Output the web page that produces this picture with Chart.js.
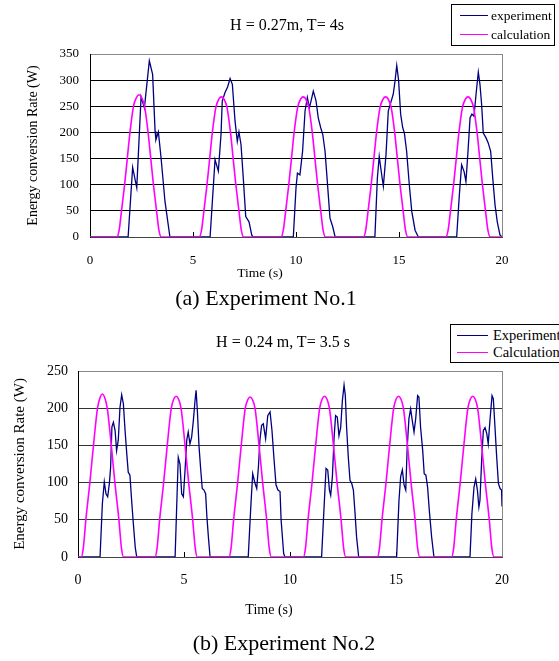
<!DOCTYPE html>
<html>
<head>
<meta charset="utf-8">
<title>Energy conversion rate</title>
<script src="https://cdn.jsdelivr.net/npm/chart.js@4.4.1/dist/chart.umd.min.js"></script>
<style>
  html, body { margin: 0; padding: 0; background: #fff; }
  body { position: relative; width: 559px; height: 661px; overflow: hidden; font-family: "Liberation Serif", "Times New Roman", serif; color: #000; }
  canvas { position: absolute; left: 0; }
  #c1 { top: 0; }
  #c2 { top: 300px; }
  .txt { position: absolute; transform: translate(-50%, -50%); white-space: nowrap; line-height: 1; }
  .legend { position: absolute; border: 1px solid #000; background: #fff; }
  .legend i { position: absolute; height: 0; border-top: 1px solid; }
  .legend span { position: absolute; transform: translateY(-50%); white-space: nowrap; line-height: 1; }
</style>
</head>
<body>
<canvas id="c1" width="559" height="290"></canvas>
<canvas id="c2" width="559" height="330"></canvas>

<div class="txt" style="left:287px; top:25px; font-size:16px;">H = 0.27m, T= 4s</div>
<div class="legend" style="left:451px; top:4px; width:102px; height:40px; font-size:13.5px;">
  <i style="left:8px; top:10px; width:28px; border-color:#000080;"></i><span style="left:39px; top:10.5px;">experiment</span>
  <i style="left:8px; top:29px; width:28px; border-color:#ff00ff;"></i><span style="left:39px; top:29.5px;">calculation</span>
</div>
<div class="txt" style="left:260px; top:273px; font-size:13.5px;">Time (s)</div>
<div class="txt" style="left:266px; top:298px; font-size:22px;">(a) Experiment No.1</div>

<div class="txt" style="left:283px; top:342px; font-size:16px;">H = 0.24 m, T= 3.5 s</div>
<div class="legend" style="left:450px; top:324px; width:130px; height:37px; font-size:14.5px;">
  <i style="left:6px; top:9.5px; width:31px; border-color:#000080;"></i><span style="left:42px; top:10px;">Experiment</span>
  <i style="left:6px; top:26.5px; width:31px; border-color:#ff00ff;"></i><span style="left:42px; top:27px;">Calculation</span>
</div>
<div class="txt" style="left:269px; top:610px; font-size:14px;">Time (s)</div>
<div class="txt" style="left:284px; top:643px; font-size:22px;">(b) Experiment No.2</div>

<script>
// (a) Experiment No.1  H = 0.27 m, T = 4 s
const expTime1 = [
  0, 1.85, 2.07, 2.27, 2.48, 2.64, 2.88, 3.04, 3.16, 3.20, 3.32, 3.45, 3.64, 3.88,
  5.83, 6.07, 6.23, 6.36, 6.42, 6.55, 6.68, 6.80, 6.91, 7.04, 7.15, 7.23, 7.33, 7.44, 7.56, 7.72, 7.85, 7.92,
  9.87, 10.00, 10.07, 10.19, 10.32, 10.44, 10.55, 10.65, 10.76, 10.84, 10.97, 11.08, 11.20, 11.30, 11.41, 11.52, 11.65, 11.78, 11.90,
  13.83, 13.95, 14.04, 14.16, 14.24, 14.37, 14.48, 14.60, 14.72, 14.81, 14.89, 14.98, 15.08, 15.18, 15.26, 15.37, 15.50, 15.62, 15.78, 15.94,
  17.80, 17.93, 18.04, 18.16, 18.25, 18.35, 18.45, 18.54, 18.64, 18.74, 18.85, 18.93, 19.01, 19.09, 19.22, 19.33, 19.45, 19.55, 19.66, 19.77, 19.90, 20
];
const expPower1 = [
  0, 0, 133, 94, 268, 247, 337, 311, 202, 186, 201, 151, 68, 0,
  0, 148, 126, 196, 260, 276, 287, 303, 292, 222, 183, 201, 177, 113, 39, 29, 4, 0,
  0, 94, 122, 119, 164, 241, 267, 247, 265, 279, 261, 228, 209, 196, 164, 106, 36, 20, 0,
  0, 113, 154, 119, 97, 158, 241, 257, 273, 299, 328, 300, 235, 209, 199, 164, 100, 49, 13, 0,
  0, 81, 138, 125, 106, 164, 228, 235, 231, 273, 315, 292, 254, 199, 190, 180, 164, 113, 62, 29, 4, 0
];
const calcTime1 = [
  0,
  1.30, 1.41, 1.53, 1.68, 1.81, 1.94, 2.11, 2.26, 2.38, 2.50, 2.65, 2.82, 2.95, 3.08, 3.23, 3.35, 3.46,
  5.30, 5.41, 5.53, 5.68, 5.81, 5.94, 6.11, 6.26, 6.38, 6.50, 6.65, 6.82, 6.95, 7.08, 7.23, 7.35, 7.46,
  9.27, 9.38, 9.50, 9.65, 9.78, 9.91, 10.08, 10.23, 10.35, 10.47, 10.62, 10.79, 10.92, 11.05, 11.20, 11.32, 11.43,
  13.27, 13.38, 13.50, 13.65, 13.78, 13.91, 14.08, 14.23, 14.35, 14.47, 14.62, 14.79, 14.92, 15.05, 15.20, 15.32, 15.43,
  17.27, 17.38, 17.50, 17.65, 17.78, 17.91, 18.08, 18.23, 18.35, 18.47, 18.62, 18.79, 18.92, 19.05, 19.20, 19.32, 19.43,
  20
];
const calcPower1 = [
  0,
  0, 12, 50, 100, 150, 200, 250, 267, 272, 267, 250, 200, 150, 100, 50, 12, 0,
  0, 12, 50, 100, 150, 200, 248, 264, 268, 264, 248, 200, 150, 100, 50, 12, 0,
  0, 12, 50, 100, 150, 200, 248, 264, 268, 264, 248, 200, 150, 100, 50, 12, 0,
  0, 12, 50, 100, 150, 200, 248, 264, 268, 264, 248, 200, 150, 100, 50, 12, 0,
  0, 12, 50, 100, 150, 200, 248, 264, 268, 264, 248, 200, 150, 100, 50, 12, 0,
  0
];

// (b) Experiment No.2  H = 0.24 m, T = 3.5 s
const expTime2 = [
  0, 1.04, 1.15, 1.24, 1.32, 1.40, 1.48, 1.54, 1.60, 1.67, 1.75, 1.82, 1.90, 1.98, 2.06, 2.14, 2.22, 2.30, 2.37, 2.45, 2.53, 2.61, 2.70, 2.77,
  4.58, 4.65, 4.73, 4.81, 4.89, 4.97, 5.05, 5.13, 5.20, 5.28, 5.36, 5.44, 5.52, 5.57, 5.63, 5.71, 5.79, 5.86, 5.94, 6.02, 6.08, 6.15, 6.23,
  8.03, 8.15, 8.24, 8.35, 8.43, 8.51, 8.58, 8.66, 8.74, 8.85, 8.95, 9.06, 9.15, 9.25, 9.34, 9.43, 9.53, 9.58, 9.70, 9.76,
  11.49, 11.60, 11.70, 11.78, 11.86, 11.92, 12.00, 12.08, 12.15, 12.23, 12.31, 12.39, 12.47, 12.55, 12.61, 12.67, 12.75, 12.83, 12.91, 12.99, 13.07, 13.14, 13.24,
  15.03, 15.14, 15.22, 15.30, 15.38, 15.46, 15.53, 15.61, 15.69, 15.77, 15.85, 15.93, 16.02, 16.08, 16.16, 16.26, 16.33, 16.41, 16.49, 16.57, 16.68, 16.79,
  18.49, 18.58, 18.68, 18.76, 18.84, 18.91, 18.96, 19.04, 19.12, 19.20, 19.28, 19.35, 19.43, 19.53, 19.59, 19.67, 19.75, 19.83, 19.91, 19.98, 20
];
const expPower2 = [
  0, 0, 72, 101, 85, 81, 99, 121, 175, 181, 170, 143, 157, 201, 218, 206, 170, 139, 114, 110, 76, 45, 13, 0,
  0, 63, 134, 125, 85, 81, 117, 157, 168, 152, 161, 183, 210, 224, 197, 148, 117, 92, 90, 85, 54, 27, 0,
  0, 67, 112, 99, 92, 121, 157, 177, 179, 159, 190, 195, 170, 130, 97, 90, 88, 50, 5, 0,
  0, 63, 119, 117, 90, 83, 108, 161, 190, 188, 163, 174, 210, 231, 217, 174, 134, 103, 99, 90, 58, 27, 0,
  0, 76, 108, 117, 97, 90, 148, 186, 199, 183, 168, 186, 217, 215, 174, 143, 112, 110, 94, 63, 27, 0,
  0, 58, 94, 105, 90, 67, 76, 130, 170, 174, 166, 152, 183, 217, 213, 174, 134, 99, 92, 90, 68
];
const calcTime2 = [
  0,
  0.15, 0.25, 0.37, 0.56, 0.73, 0.92, 1.05, 1.15, 1.25, 1.38, 1.57, 1.74, 1.93, 2.05, 2.15,
  3.63, 3.73, 3.85, 4.04, 4.21, 4.40, 4.53, 4.63, 4.73, 4.86, 5.05, 5.22, 5.41, 5.53, 5.63,
  7.12, 7.22, 7.34, 7.53, 7.70, 7.89, 8.02, 8.12, 8.22, 8.35, 8.54, 8.71, 8.90, 9.02, 9.12,
  10.63, 10.73, 10.85, 11.04, 11.21, 11.40, 11.53, 11.63, 11.73, 11.86, 12.05, 12.22, 12.41, 12.53, 12.63,
  14.12, 14.22, 14.34, 14.53, 14.70, 14.89, 15.02, 15.12, 15.22, 15.35, 15.54, 15.71, 15.90, 16.02, 16.12,
  17.62, 17.72, 17.84, 18.03, 18.20, 18.39, 18.52, 18.62, 18.72, 18.85, 19.04, 19.21, 19.40, 19.52, 19.62,
  20
];
const calcPower2 = [
  0,
  0, 12, 50, 100, 150, 200, 215, 219, 215, 200, 150, 100, 50, 12, 0,
  0, 12, 50, 100, 150, 200, 213, 216, 213, 200, 150, 100, 50, 12, 0,
  0, 12, 50, 100, 150, 200, 212, 215, 212, 200, 150, 100, 50, 12, 0,
  0, 12, 50, 100, 150, 200, 213, 216, 213, 200, 150, 100, 50, 12, 0,
  0, 12, 50, 100, 150, 200, 213, 216, 213, 200, 150, 100, 50, 12, 0,
  0, 12, 50, 100, 150, 200, 213, 216, 213, 200, 150, 100, 50, 12, 0,
  0
];

const navy = '#000080';
const magenta = '#ff00ff';

Chart.defaults.font.family = '"Liberation Serif", "Times New Roman", serif';
Chart.defaults.color = '#000';

const toPoints = (xs, ys) => xs.map((x, i) => ({ x, y: ys[i] }));

// gray right edge of the plot + small inward ticks on the time axis
const frameLines = {
  id: 'frameLines',
  beforeDatasetsDraw(chart) {
    const { ctx, chartArea: a, scales: { x } } = chart;
    ctx.save();
    ctx.lineWidth = 1;
    ctx.strokeStyle = '#888';
    ctx.beginPath();
    ctx.moveTo(Math.round(a.right) + 0.5, a.top);
    ctx.lineTo(Math.round(a.right) + 0.5, a.bottom);
    ctx.stroke();
    ctx.strokeStyle = '#000';
    ctx.beginPath();
    x.ticks.forEach(t => {
      if (t.value <= x.min || t.value >= x.max) return;
      const px = Math.round(x.getPixelForValue(t.value)) + 0.5;
      ctx.moveTo(px, a.bottom);
      ctx.lineTo(px, a.bottom - 5);
    });
    ctx.stroke();
    ctx.restore();
  }
};

function drawChart(id, o) {
  return new Chart(document.getElementById(id), {
    type: 'line',
    data: {
      datasets: [
        { label: o.labels[0], data: toPoints(o.expTime, o.expPower), borderColor: navy, borderWidth: 1.3, pointRadius: 0, tension: 0, order: 1 },
        { label: o.labels[1], data: toPoints(o.calcTime, o.calcPower), borderColor: magenta, borderWidth: 1.6, pointRadius: 0, cubicInterpolationMode: 'monotone', order: 0 }
      ]
    },
    options: {
      responsive: false,
      animation: false,
      devicePixelRatio: 1,
      layout: { padding: o.padding },
      plugins: { legend: { display: false }, title: { display: false }, tooltip: { enabled: false } },
      scales: {
        x: {
          type: 'linear', min: 0, max: 20,
          ticks: { stepSize: 5, padding: o.xPad, maxRotation: 0, font: { size: o.tickSize } },
          grid: { display: false, drawTicks: false },
          border: { color: '#444' },
          afterFit: s => { s.height = o.xHeight; }
        },
        y: {
          min: 0, max: o.yMax,
          ticks: { stepSize: 50, padding: o.yPad, font: { size: o.tickSize } },
          grid: { drawTicks: false, color: c => c.tick.value === o.yMax ? '#888' : o.gridColor },
          border: { color: '#000' },
          title: { display: true, text: 'Energy conversion Rate (W)', font: { size: o.yTitleSize }, padding: { top: o.yTitlePad, bottom: 0 } },
          afterFit: s => { s.width = o.yWidth; }
        }
      }
    },
    plugins: [frameLines]
  });
}

drawChart('c1', {
  labels: ['experiment', 'calculation'],
  expTime: expTime1, expPower: expPower1, calcTime: calcTime1, calcPower: calcPower1,
  padding: { left: 0, right: 57, top: 54, bottom: 0 },
  yWidth: 90, xHeight: 53, yMax: 350, tickSize: 13, xPad: 16, yPad: 11,
  yTitleSize: 14, yTitlePad: 25, gridColor: '#000'
});

drawChart('c2', {
  labels: ['Experiment', 'Calculation'],
  expTime: expTime2, expPower: expPower2, calcTime: calcTime2, calcPower: calcPower2,
  padding: { left: 0, right: 57, top: 71, bottom: 0 },
  yWidth: 78, xHeight: 73, yMax: 250, tickSize: 14, xPad: 15, yPad: 10,
  yTitleSize: 15, yTitlePad: 11, gridColor: '#333'
});
</script>
</body>
</html>
